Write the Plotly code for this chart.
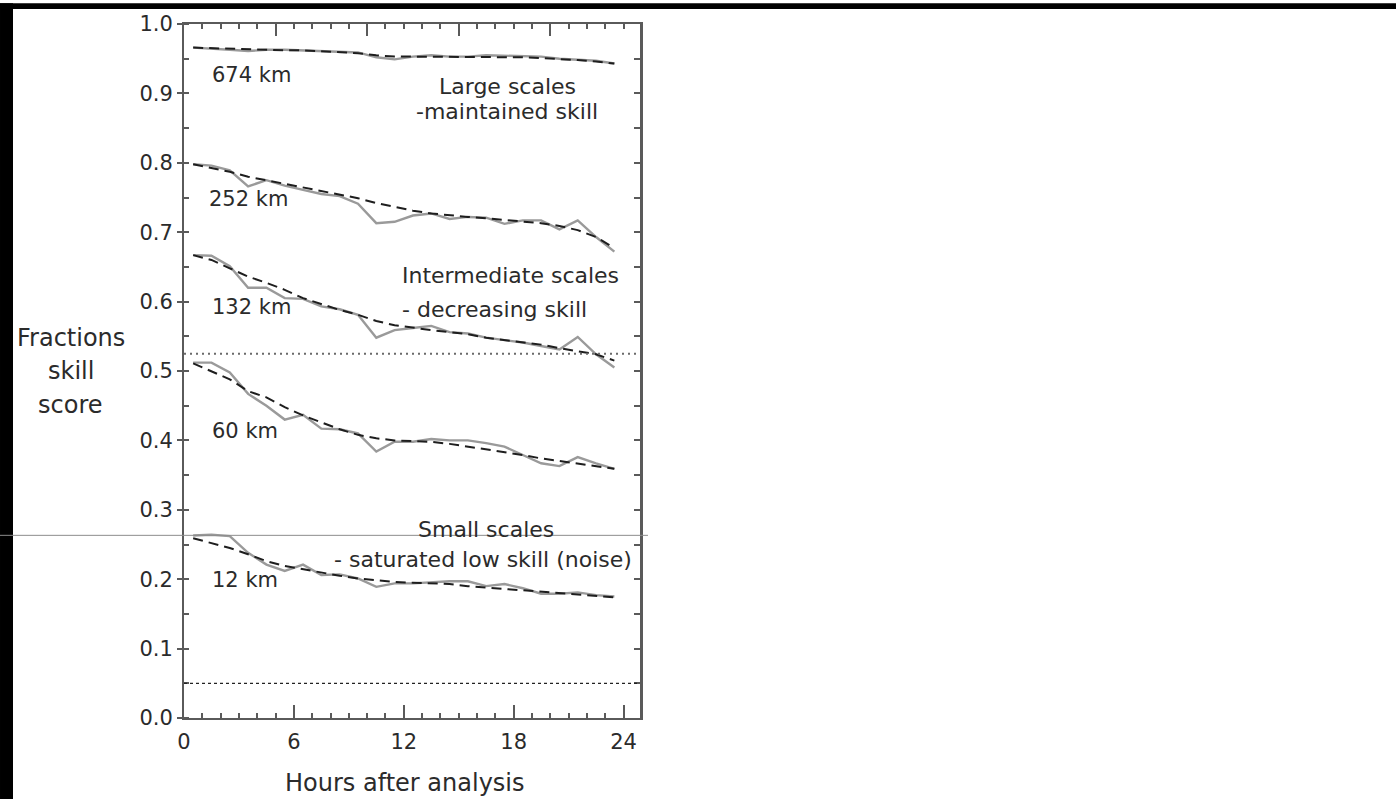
import plotly.graph_objects as go

# ---------------- data ----------------
hours = [0.5, 1.5, 2.5, 3.5, 4.5, 5.5, 6.5, 7.5, 8.5, 9.5, 10.5, 11.5,
         12.5, 13.5, 14.5, 15.5, 16.5, 17.5, 18.5, 19.5, 20.5, 21.5, 22.5, 23.5]

scale_labels = ["674 km", "252 km", "132 km", "60 km", "12 km"]

fss_674 = [0.966, 0.965, 0.963, 0.961, 0.963, 0.963, 0.962, 0.961, 0.961, 0.959, 0.952, 0.949,
           0.953, 0.955, 0.953, 0.953, 0.955, 0.954, 0.953, 0.953, 0.950, 0.949, 0.947, 0.943]
fit_674 = [0.966, 0.965, 0.964, 0.963, 0.963, 0.962, 0.962, 0.961, 0.960, 0.958, 0.955, 0.953,
           0.953, 0.953, 0.953, 0.953, 0.953, 0.953, 0.952, 0.951, 0.950, 0.948, 0.946, 0.943]

fss_252 = [0.798, 0.796, 0.789, 0.766, 0.775, 0.767, 0.761, 0.755, 0.752, 0.741, 0.713, 0.715,
           0.724, 0.727, 0.719, 0.722, 0.721, 0.712, 0.717, 0.717, 0.704, 0.717, 0.693, 0.672]
fit_252 = [0.798, 0.793, 0.787, 0.780, 0.775, 0.770, 0.765, 0.760, 0.755, 0.749, 0.742, 0.736,
           0.731, 0.727, 0.724, 0.722, 0.720, 0.718, 0.716, 0.713, 0.709, 0.703, 0.693, 0.677]

fss_132 = [0.667, 0.666, 0.651, 0.620, 0.620, 0.605, 0.604, 0.593, 0.589, 0.581, 0.548, 0.559,
           0.562, 0.565, 0.556, 0.554, 0.548, 0.545, 0.541, 0.536, 0.531, 0.549, 0.524, 0.505]
fit_132 = [0.667, 0.660, 0.648, 0.636, 0.627, 0.617, 0.605, 0.596, 0.588, 0.581, 0.572, 0.566,
           0.562, 0.559, 0.556, 0.553, 0.548, 0.545, 0.542, 0.538, 0.533, 0.529, 0.524, 0.515]

fss_60 = [0.512, 0.512, 0.498, 0.467, 0.450, 0.430, 0.437, 0.417, 0.416, 0.410, 0.384, 0.398,
          0.398, 0.402, 0.400, 0.400, 0.396, 0.391, 0.379, 0.367, 0.363, 0.376, 0.367, 0.359]
fit_60 = [0.511, 0.500, 0.488, 0.471, 0.462, 0.448, 0.436, 0.426, 0.416, 0.408, 0.403, 0.400,
          0.399, 0.398, 0.395, 0.391, 0.387, 0.384, 0.379, 0.374, 0.370, 0.367, 0.363, 0.359]

fss_12 = [0.263, 0.264, 0.262, 0.238, 0.221, 0.212, 0.221, 0.206, 0.207, 0.201, 0.189, 0.194,
          0.194, 0.196, 0.197, 0.197, 0.190, 0.193, 0.187, 0.179, 0.179, 0.181, 0.177, 0.175]
fit_12 = [0.259, 0.252, 0.245, 0.236, 0.226, 0.219, 0.214, 0.209, 0.205, 0.201, 0.198, 0.196,
          0.195, 0.194, 0.193, 0.190, 0.188, 0.186, 0.183, 0.181, 0.179, 0.178, 0.176, 0.174]

fss_uniform = 0.525
fss_random = 0.05

x_ticks = [0, 6, 12, 18, 24]
y_ticks = [0.0, 0.1, 0.2, 0.3, 0.4, 0.5, 0.6, 0.7, 0.8, 0.9, 1.0]

y_title_lines = ["Fractions", "skill", "score"]
x_title = "Hours after analysis"

# ---------------- figure ----------------
FONT = "DejaVu Sans"
TXT = "#2b2b2b"
AX = "#5a5a5a"

fig = go.Figure()

series = [(fss_674, fit_674), (fss_252, fit_252), (fss_132, fit_132),
          (fss_60, fit_60), (fss_12, fit_12)]
for (obs, fit), name in zip(series, scale_labels):
    fig.add_trace(go.Scatter(x=hours, y=obs, mode="lines", name=name,
                             line=dict(color="#9a9a9a", width=2.4),
                             hoverinfo="skip"))
    fig.add_trace(go.Scatter(x=hours, y=fit, mode="lines", name=name + " fit",
                             xaxis="x2", yaxis="y2",
                             line=dict(color="#1e1e1e", width=2, dash="10px,6px"),
                             hoverinfo="skip"))

# reference lines
fig.add_hline(y=fss_uniform, line=dict(color="#6a6a6a", width=2, dash="2px,4px"))
fig.add_hline(y=fss_random, line=dict(color="#222222", width=1.3, dash="3px,3px"))

XR = [0, 24.9]
fig.update_layout(
    width=1396, height=799,
    margin=dict(l=184, r=756, t=19, b=81),
    paper_bgcolor="white", plot_bgcolor="white",
    showlegend=False,
    font=dict(family=FONT, size=21, color=TXT),
    xaxis=dict(range=XR, tickmode="array", tickvals=x_ticks,
               ticks="inside", ticklen=13, tickwidth=1.5, tickcolor=AX,
               minor=dict(dtick=1, tick0=0, ticks="inside", ticklen=5,
                          tickwidth=1.5, tickcolor=AX),
               showline=True, linecolor=AX, linewidth=2,
               showgrid=False, zeroline=False, ticklabelstandoff=4,
               tickfont=dict(family=FONT, size=21, color=TXT)),
    xaxis2=dict(range=XR, overlaying="x", side="top",
                tickmode="linear", tick0=0, dtick=5, showticklabels=False,
                ticks="inside", ticklen=12, tickwidth=1.5, tickcolor=AX,
                minor=dict(dtick=1, tick0=0, ticks="inside", ticklen=5,
                           tickwidth=1.5, tickcolor=AX),
                showline=True, linecolor=AX, linewidth=2,
                showgrid=False, zeroline=False),
    yaxis=dict(range=[0, 1], tickmode="array", tickvals=y_ticks, tickformat=".1f",
               ticks="outside", ticklen=5, tickwidth=1.5, tickcolor=AX,
               minor=dict(dtick=0.05, tick0=0, ticks="inside", ticklen=5,
                          tickwidth=1.5, tickcolor=AX),
               showline=True, linecolor=AX, linewidth=2,
               showgrid=False, zeroline=False,
               tickfont=dict(family=FONT, size=21, color=TXT)),
    yaxis2=dict(range=[0, 1], overlaying="y", side="right",
                tickmode="linear", tick0=0, dtick=0.05, showticklabels=False,
                ticks="inside", ticklen=6, tickwidth=1.5, tickcolor=AX,
                showline=True, linecolor=AX, linewidth=2.5,
                showgrid=False, zeroline=False),
)

# scale labels
label_pos = [(1.42, 0.927), (1.25, 0.748), (1.42, 0.592), (1.42, 0.413), (1.42, 0.199)]
for name, (lx, ly) in zip(scale_labels, label_pos):
    fig.add_annotation(x=lx, y=ly, xref="x", yref="y", text=name, showarrow=False,
                       xanchor="left", yanchor="middle",
                       font=dict(family=FONT, size=21, color=TXT))

# regime annotations
regime = [
    ("Large scales", 17.64, 0.910, "center"),
    ("-maintained skill", 17.62, 0.874, "center"),
    ("Intermediate scales", 11.8, 0.637, "left"),
    ("- decreasing skill", 11.8, 0.589, "left"),
    ("Small scales", 16.49, 0.272, "center"),
    ("- saturated low skill (noise)", 16.3, 0.229, "center"),
]
for txt, ax_, ay_, anc in regime:
    fig.add_annotation(x=ax_, y=ay_, xref="x", yref="y", text=txt, showarrow=False,
                       xanchor=anc, yanchor="middle",
                       font=dict(family=FONT, size=22, color=TXT))

# axis titles (paper coordinates, outside the plot area)
for txt, ty in zip(y_title_lines, [0.5475, 0.4993, 0.4506]):
    fig.add_annotation(x=-0.248, y=ty, xref="paper", yref="paper", text=txt,
                       showarrow=False, xanchor="center", yanchor="middle",
                       font=dict(family=FONT, size=24, color=TXT))
fig.add_annotation(x=0.4846, y=-0.094, xref="paper", yref="paper", text=x_title,
                   showarrow=False, xanchor="center", yanchor="middle",
                   font=dict(family=FONT, size=24, color=TXT))

# page-edge artefacts of the reference image
fig.add_shape(type="rect", xref="paper", yref="paper", x0=-0.4035, x1=-0.375,
              y0=-0.12, y1=1.03, fillcolor="black", line=dict(width=0), layer="above")
fig.add_shape(type="rect", xref="paper", yref="paper", x0=-0.4035, x1=2.66,
              y0=1.0215, y1=1.03, fillcolor="black", line=dict(width=0), layer="above")
fig.add_shape(type="line", xref="paper", yref="paper", x0=-0.4035, x1=1.0175,
              y0=0.2632, y1=0.2632, line=dict(color="#8c8c8c", width=1), layer="above")

fig.write_html("out.html", config={"displayModeBar": False},
               post_script="document.body.style.margin='0';document.body.style.overflow='hidden';")
